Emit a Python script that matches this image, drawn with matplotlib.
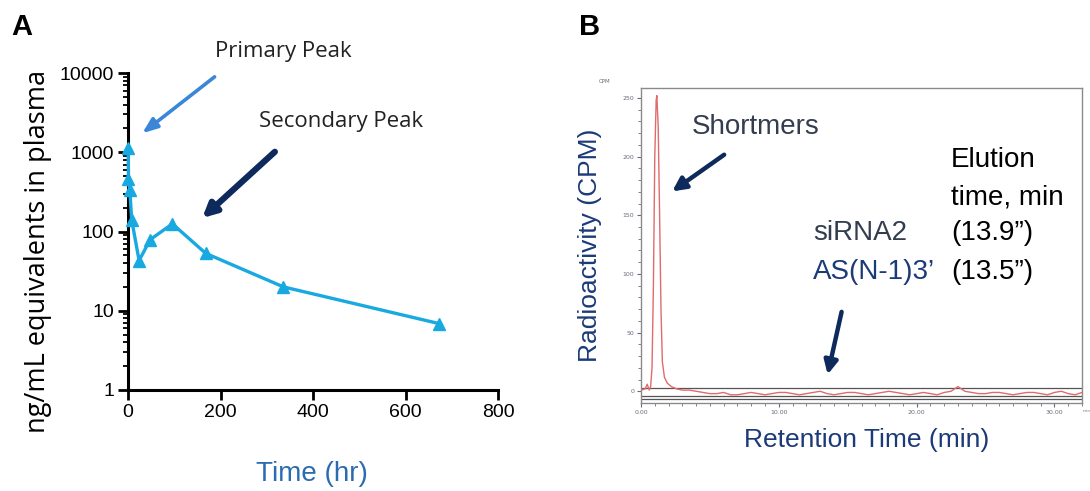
import numpy as np
import matplotlib
matplotlib.use("Agg")
import matplotlib.pyplot as plt
from matplotlib.ticker import FixedLocator, NullFormatter, LogLocator

W, H = 1090, 491

# ---- panel A: plasma concentration vs time ----
time_hr = [0.5, 1, 4, 8, 24, 48, 96, 168, 336, 672]
conc = [1120, 465, 332, 140, 43, 79, 125, 53, 20, 6.9]
a_xticks = [0, 200, 400, 600, 800]
a_yticks = [1, 10, 100, 1000, 10000]

# ---- panel B: radio-chromatogram ----
peak_t = [0.0, 0.3, 0.45, 0.6, 0.7, 0.8, 0.9, 1.0, 1.1, 1.15, 1.25, 1.35, 1.45,
          1.55, 1.7, 1.9, 2.2, 2.6, 3.0]
peak_cpm = [1, 2, 6, 1, 4, 20, 90, 200, 248, 252, 225, 150, 70, 25, 12, 7, 4, 2, 1]
base_cpm = [1, 0, -1, -2, -2, -1, -3, -3, -2, -1, -2, -3, -2, -1, -1, -2, -3, -2,
            -1, 0, -2, -3, -2, -1, -1, -2, -3, -2, -1, 0, -1, -2, -3, -2, -1, -2,
            -3, -1, 0, 4, 0, -1, -2, -2, -1, -1, -2, -3, -2, -1, -1, -2, -3, -1,
            0, -2, -3, -1, 0]
base_t = list(np.arange(3.5, 3.5 + 0.5 * len(base_cpm), 0.5))
b_xticks = [0, 10, 20, 30]
b_xticklabels = ["0.00", "10.00", "20.00", "30.00"]
b_yticks = [0, 50, 100, 150, 200, 250]

LINE_A = "#19a9e1"
NAVY = "#1b3a78"
SLATE = "#333d4f"


def fx(px):
    return px / W


def fy(py):
    return 1 - py / H


fig = plt.figure(figsize=(W / 100, H / 100), dpi=100)

# ---------------- A ----------------
axA = fig.add_axes([fx(128), fy(390), fx(498) - fx(128), fy(73) - fy(390)])
axA.plot(time_hr, conc, color=LINE_A, lw=2.4, marker="^", ms=9,
         markeredgecolor=LINE_A, clip_on=False, zorder=3)
axA.set_yscale("log")
axA.set_xlim(0, 800)
axA.set_ylim(1, 10000)
axA.set_xticks(a_xticks)
axA.set_yticks(a_yticks)
axA.set_yticklabels([str(v) for v in a_yticks])
axA.yaxis.set_minor_locator(LogLocator(base=10, subs=np.arange(2, 10)))
axA.yaxis.set_minor_formatter(NullFormatter())
for s in ["top", "right"]:
    axA.spines[s].set_visible(False)
for s in ["left", "bottom"]:
    axA.spines[s].set_linewidth(2.2)
axA.tick_params(axis="both", which="major", length=7, width=2, labelsize=14,
                pad=3)
axA.tick_params(axis="y", which="minor", length=3.5, width=1.3)
for lab in axA.get_xticklabels() + axA.get_yticklabels():
    lab.set_family("Liberation Sans")

axA.annotate("", xy=(26, 1650), xytext=(192, 9400),
             arrowprops=dict(arrowstyle="-|>,head_length=0.9,head_width=0.35",
                             color="#3c86d8", lw=2.6),
             annotation_clip=False)
axA.annotate("", xy=(156, 140), xytext=(322, 1070),
             arrowprops=dict(arrowstyle="-|>,head_length=0.8,head_width=0.4",
                             color="#0e2a5c", lw=4.5),
             annotation_clip=False)

fig.text(fx(283), fy(52), "Primary Peak", ha="center", va="center",
         fontsize=16, family="Open Sans", color="#222222")
fig.text(fx(341), fy(121), "Secondary Peak", ha="center", va="center",
         fontsize=16, family="Open Sans", color="#222222")
fig.text(fx(38), fy(251), "ng/mL equivalents in plasma", rotation=90,
         ha="center", va="center", fontsize=19.5, family="Open Sans",
         color="black")
fig.text(fx(312), fy(474), "Time (hr)", ha="center", va="center",
         fontsize=20, family="Liberation Sans", color="#2b6cb0")
fig.text(fx(22), fy(27), "A", ha="center", va="center", fontsize=21,
         fontweight="bold", family="Liberation Sans")

# ---------------- B ----------------
axB = fig.add_axes([fx(641), fy(403), fx(1082) - fx(641), fy(88) - fy(403)])
axB.plot(peak_t + base_t, peak_cpm + base_cpm, color="#e06b6b", lw=1.0,
         zorder=3)
axB.axhline(3, color="#555555", lw=0.9, zorder=2)
axB.axhline(-4, color="#555555", lw=0.9, zorder=2)
axB.axhline(-7, color="#555555", lw=0.9, zorder=2)
axB.set_xlim(0, 32)
axB.set_ylim(-10, 258.5)
axB.set_xticks(b_xticks)
axB.set_xticklabels(b_xticklabels)
axB.set_yticks(b_yticks)
axB.xaxis.set_minor_locator(FixedLocator(np.arange(0, 33, 1)))
axB.yaxis.set_minor_locator(FixedLocator(np.arange(0, 260, 10)))
for s in axB.spines.values():
    s.set_color("#8a8a8a")
    s.set_linewidth(1.0)
axB.tick_params(axis="both", which="major", length=3, width=0.8,
                colors="#6a6a7a", labelsize=4.5, pad=2)
axB.tick_params(axis="both", which="minor", length=2, width=0.6,
                colors="#6a6a7a")

axB.annotate("", xy=(2.1, 169), xytext=(6.2, 203),
             arrowprops=dict(arrowstyle="-|>,head_length=0.8,head_width=0.4",
                             color="#0e2a5c", lw=3.2),
             annotation_clip=False)
axB.annotate("", xy=(13.5, 12), xytext=(14.6, 70),
             arrowprops=dict(arrowstyle="-|>,head_length=0.8,head_width=0.4",
                             color="#0e2a5c", lw=3.2),
             annotation_clip=False)

fig.text(fx(605), fy(81), "CPM", ha="center", va="center", fontsize=4,
         color="#6a6a7a")
fig.text(fx(1083), fy(411), "min", ha="left", va="center", fontsize=3.2,
         color="#9a6a8a")
fig.text(fx(756), fy(127), "Shortmers", ha="center", va="center",
         fontsize=20, family="Liberation Sans", color=SLATE)
fig.text(fx(951), fy(160), "Elution", ha="left", va="center", fontsize=20,
         family="Liberation Sans", color="black")
fig.text(fx(951), fy(197), "time, min", ha="left", va="center", fontsize=20,
         family="Liberation Sans", color="black")
fig.text(fx(951), fy(233), "(13.9\u201d)", ha="left", va="center",
         fontsize=20, family="Liberation Sans", color="black")
fig.text(fx(951), fy(272), "(13.5\u201d)", ha="left", va="center",
         fontsize=20, family="Liberation Sans", color="black")
fig.text(fx(813), fy(233), "siRNA2", ha="left", va="center", fontsize=20,
         family="Liberation Sans", color=SLATE)
fig.text(fx(813), fy(272), "AS(N-1)3\u2019", ha="left", va="center",
         fontsize=20, family="Liberation Sans", color=NAVY)
fig.text(fx(590), fy(245), "Radioactivity (CPM)", rotation=90, ha="center",
         va="center", fontsize=19, family="Liberation Sans", color=NAVY)
fig.text(fx(867), fy(440), "Retention Time (min)", ha="center", va="center",
         fontsize=19, family="Liberation Sans", color=NAVY)
fig.text(fx(590), fy(27), "B", ha="center", va="center", fontsize=21,
         fontweight="bold", family="Liberation Sans")

fig.savefig("out.png", dpi=100)
